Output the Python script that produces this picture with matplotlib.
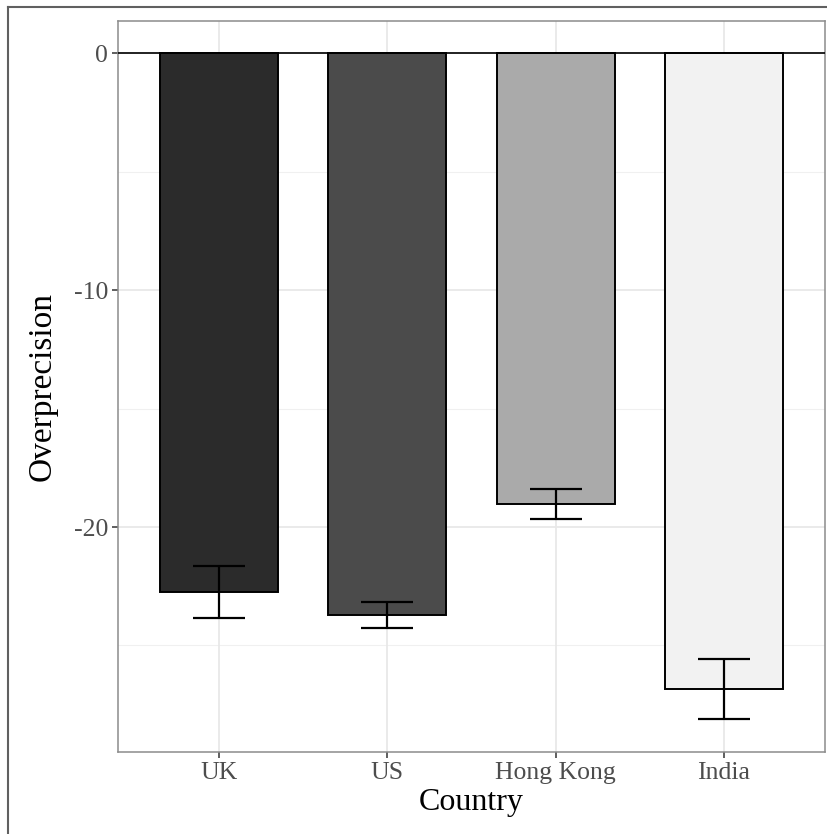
import matplotlib.pyplot as plt
from matplotlib.lines import Line2D

# Data
countries = ['UK', 'US', 'Hong Kong', 'India']
overprecision = [-22.73, -23.70, -19.03, -26.84]
std_err = [1.10, 0.55, 0.63, 1.26]
fill_colors = ['#2b2b2b', '#4b4b4b', '#aaaaaa', '#f2f2f2']
y_ticks = [0, -10, -20]

plt.rcParams['font.family'] = ['Liberation Serif', 'DejaVu Serif']

fig = plt.figure(figsize=(8.27, 8.34), dpi=100)
ax = fig.add_axes([0.1427, 0.0983, 0.8549, 0.8765])

x = range(len(countries))

# grid like theme_bw
for yv in [-5, -15, -25]:
    ax.axhline(yv, color='#f0f0f0', lw=0.8, zorder=0)
for yv in y_ticks:
    ax.axhline(yv, color='#e8e8e8', lw=1.3, zorder=0)
for xv in x:
    ax.axvline(xv, color='#e8e8e8', lw=1.3, zorder=0)

ax.bar(x, overprecision, width=0.7, color=fill_colors, edgecolor='black',
       linewidth=1.4, zorder=2)
ax.errorbar(x, overprecision, yerr=std_err, fmt='none', ecolor='black',
            elinewidth=1.6, capsize=18.5, capthick=1.6, zorder=3)
ax.axhline(0, color='black', lw=1.2, zorder=4)

ax.set_xlim(-0.6, 3.6)
ax.set_ylim(-29.5, 1.37)
ax.set_xticks(list(x))
ax.set_xticklabels(countries)
ax.set_yticks(y_ticks)
ax.set_yticklabels([str(v) for v in y_ticks])

ax.tick_params(axis='both', length=4, width=1.1, color='#333333',
               labelcolor='#4d4d4d', labelsize=18.5, pad=3)
for sp in ax.spines.values():
    sp.set_color('#8c8c8c')
    sp.set_linewidth(1.1)

ax.set_xlabel('Country', fontsize=23, labelpad=3)
ax.set_ylabel('Overprecision', fontsize=24, labelpad=12)

# outer plot border
fig.add_artist(Line2D([8 / 827, 8 / 827], [0, 1 - 7 / 834],
                      transform=fig.transFigure, color='#606060', lw=1.5))
fig.add_artist(Line2D([8 / 827, 1], [1 - 7 / 834, 1 - 7 / 834],
                      transform=fig.transFigure, color='#606060', lw=1.5))

fig.savefig('out.png', dpi=100)
